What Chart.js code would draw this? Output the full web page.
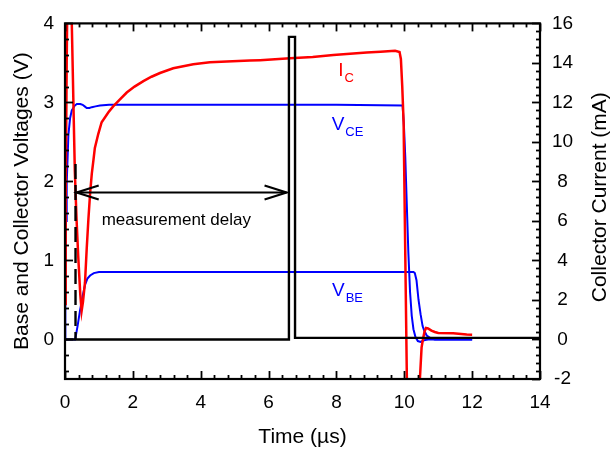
<!DOCTYPE html>
<html>
<head>
<meta charset="utf-8">
<script src="https://cdn.jsdelivr.net/npm/chart.js@4/dist/chart.umd.min.js"></script>
<style>
  html, body { margin: 0; padding: 0; background: #fff; }
  #wrap { width: 611px; height: 457px; }
</style>
</head>
<body>
<div id="wrap"><canvas id="chart" width="611" height="457"></canvas></div>
<script>
// ---- Measured waveforms (time in microseconds) ----
// Collector current I_C (mA, right axis)
const icTime = [0, 0.02, 0.05, 0.08, 0.11, 0.16, 0.2, 0.23, 0.25, 0.29, 0.34, 0.39, 0.45, 0.49, 0.53,
  0.59, 0.64, 0.69, 0.74, 0.79, 0.84, 0.88, 0.98, 1.08, 1.28, 1.42, 1.62, 1.82, 2.05, 2.31, 2.55,
  2.8, 3.19, 3.78, 4.27, 4.77, 5.45, 5.75, 6.63, 7.3, 7.91, 8.4, 8.89, 9.3, 9.73, 9.86, 9.9, 9.94,
  9.98, 10.03, 10.08, 10.1, 10.4, 10.46, 10.51, 10.56, 10.6, 10.64, 10.7, 10.8, 10.9, 11.0, 11.44,
  11.84, 12.0];
const icMilliamps = [1.8, 7, 14, 19, 22, 22, 16, 13.5, 11.8, 8.5, 6.1, 4.2, 2.3, 1.44, 1.9,
  2.9, 4.6, 6.1, 7.4, 8.4, 9.1, 9.7, 10.4, 11.0, 11.5, 11.8, 12.15, 12.5, 12.8, 13.08, 13.3,
  13.49, 13.73, 13.93, 14.03, 14.07, 14.12, 14.14, 14.23, 14.3, 14.4, 14.46, 14.53, 14.57, 14.61, 14.55, 14.2, 12.8,
  11.0, 4.2, -2.5, -4, -4, -2.0, -0.4, 0.1, 0.42, 0.58, 0.56, 0.45, 0.38, 0.33, 0.31,
  0.25, 0.24];

// Collector-emitter voltage V_CE (V, left axis)
const vceTime = [0, 0.01, 0.03, 0.05, 0.1, 0.15, 0.2, 0.29, 0.35, 0.45, 0.52, 0.58, 0.64, 0.72,
  0.79, 0.9, 1.03, 1.3, 1.6, 2.5, 4, 6, 8, 9.95, 9.99, 10.03, 10.07, 10.12, 10.17, 10.22, 10.27,
  10.33, 10.4, 10.48, 10.58, 10.7, 11, 12];
const vceVolts = [0, 0.8, 1.5, 1.97, 2.59, 2.8, 2.9, 2.96, 2.98, 2.98, 2.97, 2.95, 2.93, 2.93,
  2.94, 2.95, 2.96, 2.97, 2.97, 2.97, 2.97, 2.97, 2.97, 2.96, 2.7, 2.3, 1.76, 1.1, 0.6, 0.3, 0.13,
  0.03, -0.02, -0.03, -0.01, 0, 0, 0];

// Base-emitter voltage V_BE (V, left axis)
const vbeTime = [0, 0.3, 0.37, 0.44, 0.52, 0.59, 0.66, 0.74, 0.85, 1.0, 1.5, 3, 6, 9, 10.27,
  10.31, 10.36, 10.42, 10.48, 10.54, 10.59, 10.66, 10.76, 10.9, 12];
const vbeVolts = [0, 0, 0.17, 0.36, 0.55, 0.69, 0.77, 0.81, 0.84, 0.853, 0.855, 0.855, 0.855, 0.855, 0.855,
  0.84, 0.75, 0.5, 0.32, 0.17, 0.11, 0.05, 0.02, 0, 0];

// Measurement trigger trace (V, left axis)
const triggerTime = [0, 6.6, 6.6, 6.78, 6.78, 14];
const triggerVolts = [0, 0, 3.83, 3.83, 0.02, 0.02];

// Dashed start marker of the measurement window
const startMarkTime = [0.31, 0.31];
const startMarkVolts = [2.22, 0];

// Double-headed "measurement delay" arrow
const delayArrowTime = [0.345, 6.53];
const delayArrowVolts = [1.86, 1.86];

// Axis tick labels
const timeTicks = [0, 2, 4, 6, 8, 10, 12, 14];
const voltTicks = [0, 1, 2, 3, 4];
const currentTicks = [-2, 0, 2, 4, 6, 8, 10, 12, 14, 16];

const FONT = "'Liberation Sans', Arial, Helvetica, sans-serif";
const RED = '#ff0000';
const BLUE = '#0000ff';

const pts = (xs, ys) => xs.map((x, i) => ({ x, y: ys[i] }));

// Text annotations placed in data coordinates
const notes = [
  { main: 'I', sub: 'C', t: 8.05, v: 13.32, axis: 'yI', color: RED, align: 'left' },
  { main: 'V', sub: 'CE', t: 7.86, v: 2.65, axis: 'yV', color: BLUE, align: 'left' },
  { main: 'V', sub: 'BE', t: 7.87, v: 0.545, axis: 'yV', color: BLUE, align: 'left' },
  { main: 'measurement delay', sub: '', t: 3.28, v: 1.45, axis: 'yV', color: '#000', align: 'center' }
];

// Frame, inward major/minor ticks, arrowheads, notes and the right-hand axis title
const decorations = {
  id: 'decorations',
  afterDatasetsDraw(chart) {
    const { ctx, chartArea: a, scales } = chart;
    const sx = scales.x, sv = scales.yV, si = scales.yI;
    ctx.save();
    ctx.strokeStyle = '#000';
    ctx.lineCap = 'butt';
    const seg = (x1, y1, x2, y2) => { ctx.beginPath(); ctx.moveTo(x1, y1); ctx.lineTo(x2, y2); ctx.stroke(); };
    const MAJOR = 8, MINOR = 4;
    ctx.lineWidth = 1.8;

    // time ticks: bottom and top edges
    for (let i = 0; i <= 35; i++) {
      const v = i * 0.4;
      const px = Math.round(sx.getPixelForValue(v)) + 0.5;
      const len = (i % 5 === 0) ? MAJOR : MINOR;
      seg(px, a.bottom, px, a.bottom - len);
      seg(px, a.top, px, a.top + len);
    }
    // voltage ticks: left edge
    for (let i = -2; i <= 20; i++) {
      const v = i * 0.2;
      const py = Math.round(sv.getPixelForValue(v)) + 0.5;
      const len = (i % 5 === 0) ? MAJOR : MINOR;
      seg(a.left, py, a.left + len, py);
    }
    // current ticks: right edge
    for (let i = -5; i <= 40; i++) {
      const v = i * 0.4;
      const py = Math.round(si.getPixelForValue(v)) + 0.5;
      const len = (i % 5 === 0) ? MAJOR : MINOR;
      seg(a.right, py, a.right - len, py);
    }

    // frame
    ctx.lineWidth = 2.2;
    ctx.strokeRect(a.left, a.top, a.right - a.left, a.bottom - a.top);

    // arrowheads on the delay arrow
    ctx.lineWidth = 2.2;
    const ay = sv.getPixelForValue(delayArrowVolts[0]);
    const lx = sx.getPixelForValue(delayArrowTime[0]);
    const rx = sx.getPixelForValue(delayArrowTime[1]);
    const HL = 22, HW = 7;
    ctx.beginPath();
    ctx.moveTo(lx + HL, ay - HW); ctx.lineTo(lx, ay); ctx.lineTo(lx + HL, ay + HW);
    ctx.moveTo(rx - HL, ay - HW); ctx.lineTo(rx, ay); ctx.lineTo(rx - HL, ay + HW);
    ctx.stroke();

    // notes with subscripts
    ctx.textBaseline = 'alphabetic';
    notes.forEach(n => {
      const x = sx.getPixelForValue(n.t);
      const y = scales[n.axis].getPixelForValue(n.v);
      ctx.fillStyle = n.color;
      if (n.sub) {
        ctx.font = '19px ' + FONT;
        ctx.textAlign = 'left';
        ctx.fillText(n.main, x, y);
        const w = ctx.measureText(n.main).width;
        ctx.font = '13px ' + FONT;
        ctx.fillText(n.sub, x + w + 1, y + 6);
      } else {
        ctx.font = '17px ' + FONT;
        ctx.textAlign = n.align;
        ctx.fillText(n.main, x, y);
      }
    });

    // right axis title, reading bottom to top
    ctx.fillStyle = '#000';
    ctx.font = '21px ' + FONT;
    ctx.textAlign = 'center';
    ctx.textBaseline = 'middle';
    ctx.translate(600, (a.top + a.bottom) / 2 - 4);
    ctx.rotate(-Math.PI / 2);
    ctx.fillText('Collector Current (mA)', 0, 0);
    ctx.restore();
  }
};

const line = (label, data, color, width, axis, extra) => Object.assign({
  label, data, borderColor: color, backgroundColor: color, borderWidth: width,
  pointRadius: 0, tension: 0, fill: false, yAxisID: axis
}, extra || {});

new Chart(document.getElementById('chart'), {
  type: 'line',
  data: {
    datasets: [
      line('Trigger', pts(triggerTime, triggerVolts), '#000', 2.4, 'yV'),
      line('Start', pts(startMarkTime, startMarkVolts), '#000', 2.4, 'yV', { borderDash: [15, 6] }),
      line('Delay', pts(delayArrowTime, delayArrowVolts), '#000', 2.2, 'yV'),
      line('I_C', pts(icTime, icMilliamps), RED, 2.5, 'yI'),
      line('V_CE', pts(vceTime, vceVolts), BLUE, 2, 'yV'),
      line('V_BE', pts(vbeTime, vbeVolts), BLUE, 2, 'yV')
    ]
  },
  options: {
    responsive: false,
    animation: false,
    devicePixelRatio: 1,
    layout: { padding: { top: 16, left: 0, right: 0, bottom: 0 } },
    plugins: { legend: { display: false }, tooltip: { enabled: false } },
    scales: {
      x: {
        type: 'linear', position: 'bottom', min: 0, max: 14,
        afterBuildTicks: s => { s.ticks = timeTicks.map(v => ({ value: v })); },
        afterFit: s => { s.height = 78; },
        grid: { display: false, drawTicks: false },
        border: { display: false },
        ticks: { color: '#000', font: { family: FONT, size: 19 }, padding: 12, maxRotation: 0 },
        title: { display: true, text: 'Time (µs)', color: '#000',
          font: { family: FONT, size: 21, lineHeight: 1 }, padding: { top: 0, bottom: 9.5 } }
      },
      yV: {
        type: 'linear', position: 'left', min: -0.5, max: 4,
        afterBuildTicks: s => { s.ticks = voltTicks.map(v => ({ value: v })); },
        afterFit: s => { s.width = 65; },
        grid: { display: false, drawTicks: false },
        border: { display: false },
        ticks: { color: '#000', font: { family: FONT, size: 19 }, padding: 11 },
        title: { display: true, text: 'Base and Collector Voltages (V)', color: '#000',
          font: { family: FONT, size: 21, lineHeight: 1 }, padding: { top: 11.5, bottom: 0 } }
      },
      yI: {
        type: 'linear', position: 'right', min: -2, max: 16,
        afterBuildTicks: s => { s.ticks = currentTicks.map(v => ({ value: v })); },
        afterFit: s => { s.width = 71; },
        grid: { display: false, drawTicks: false },
        border: { display: false },
        ticks: { color: '#000', font: { family: FONT, size: 19 }, padding: 12, crossAlign: 'center' }
      }
    }
  },
  plugins: [decorations]
});
</script>
</body>
</html>
